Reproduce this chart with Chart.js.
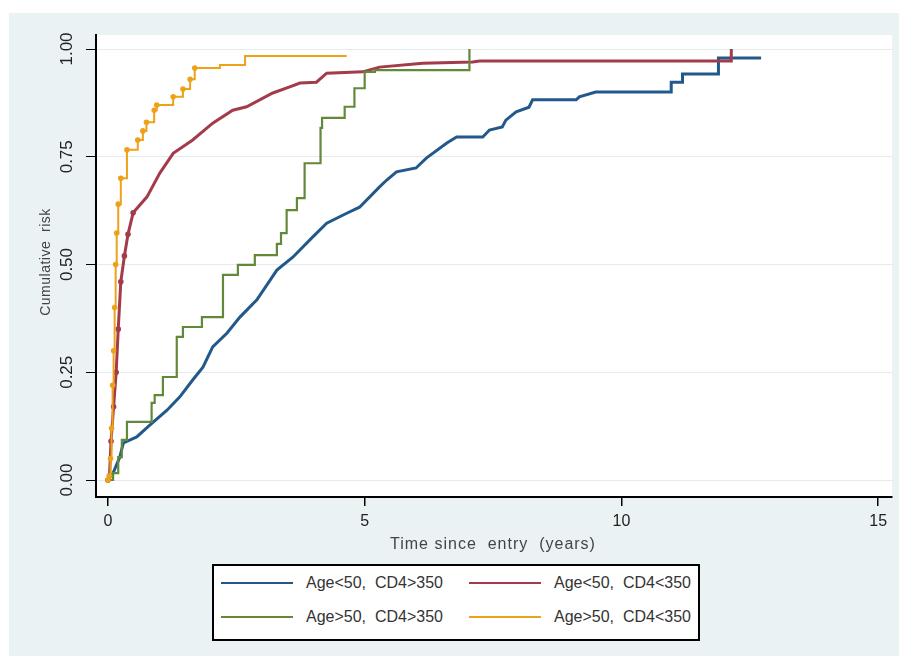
<!DOCTYPE html>
<html>
<head>
<meta charset="utf-8">
<script src="https://cdn.jsdelivr.net/npm/chart.js@4.4.1/dist/chart.umd.min.js"></script>
<style>
  body { margin: 0; background: #fff; }
  #wrap { position: relative; width: 899px; height: 664px; }
  #legend {
    position: absolute; left: 212px; top: 564px; width: 484px; height: 73px;
    border: 2px solid #000; background: #fff;
    font-family: "Liberation Sans", Arial, sans-serif; font-size: 16px; color: #333;
  }
  .item { position: absolute; height: 20px; }
  .swatch { position: absolute; top: 9px; width: 72px; height: 2px; }
  .label { position: absolute; left: 85px; top: 0; line-height: 20px; white-space: pre; }
</style>
</head>
<body>
<div id="wrap">
  <canvas id="myChart" width="899" height="664"></canvas>
  <div id="legend"></div>
</div>
<script>
const seriesNames = [
  "Age<50,  CD4>350",
  "Age<50,  CD4<350",
  "Age>50,  CD4>350",
  "Age>50,  CD4<350"
];
const seriesColors = ["#22598a", "#a33b4a", "#62893a", "#eda21a"];

// Age<50, CD4>350 (vertices of the curve)
const timeBlue = [0, 0.1, 0.23, 0.3, 0.56, 0.82, 1.15, 1.4, 1.65, 1.85, 2.04, 2.32, 2.57, 2.9, 3.29, 3.6, 3.99, 4.26, 4.65, 4.9, 5.29, 5.43, 5.62, 6.0, 6.2, 6.6, 6.79, 7.3, 7.43, 7.68, 7.75, 7.95, 8.2, 8.27, 9.12, 9.18, 9.5, 10.97, 10.97, 11.19, 11.19, 11.89, 11.89, 12.72];
const riskBlue = [0, 0.016, 0.053, 0.086, 0.1, 0.128, 0.162, 0.193, 0.232, 0.262, 0.309, 0.341, 0.378, 0.418, 0.487, 0.517, 0.564, 0.596, 0.619, 0.633, 0.68, 0.696, 0.715, 0.724, 0.747, 0.782, 0.796, 0.796, 0.812, 0.819, 0.835, 0.854, 0.865, 0.882, 0.882, 0.889, 0.9, 0.9, 0.923, 0.923, 0.942, 0.942, 0.979, 0.979];

// Age<50, CD4<350
const timeMaroon = [0, 0.03, 0.06, 0.11, 0.16, 0.2, 0.25, 0.32, 0.39, 0.49, 0.76, 1.01, 1.27, 1.65, 2.04, 2.43, 2.7, 3.21, 3.54, 3.74, 4.06, 4.26, 4.96, 5.29, 6.13, 7.1, 7.24, 12.14, 12.14];
const riskMaroon = [0, 0.01, 0.09, 0.17, 0.25, 0.35, 0.46, 0.52, 0.57, 0.62, 0.657, 0.712, 0.758, 0.789, 0.828, 0.858, 0.866, 0.898, 0.912, 0.921, 0.923, 0.944, 0.947, 0.958, 0.967, 0.97, 0.972, 0.972, 1.0];

// Age>50, CD4>350 (step points)
const timeGreen = [0, 0.1, 0.2, 0.27, 0.37, 0.85, 0.91, 1.07, 1.34, 1.46, 1.83, 2.24, 2.53, 2.86, 3.29, 3.37, 3.48, 3.68, 3.83, 4.14, 4.17, 4.61, 4.8, 5.0, 5.2, 7.04];
const riskGreen = [0, 0.016, 0.053, 0.093, 0.135, 0.179, 0.197, 0.239, 0.332, 0.355, 0.378, 0.476, 0.499, 0.522, 0.548, 0.573, 0.626, 0.654, 0.735, 0.817, 0.84, 0.866, 0.909, 0.947, 0.951, 1.0];

// Age>50, CD4<350 (step points)
const timeOrange = [0, 0.03, 0.05, 0.07, 0.09, 0.11, 0.13, 0.15, 0.17, 0.2, 0.25, 0.37, 0.58, 0.68, 0.75, 0.9, 0.95, 1.27, 1.46, 1.6, 1.69, 2.18, 2.67, 4.65];
const riskOrange = [0, 0.01, 0.05, 0.12, 0.22, 0.3, 0.4, 0.5, 0.573, 0.64, 0.7, 0.766, 0.789, 0.81, 0.83, 0.858, 0.87, 0.889, 0.907, 0.93, 0.956, 0.963, 0.984, 0.984];

const xTicks = [0, 5, 10, 15];
const yTicks = [0, 0.25, 0.5, 0.75, 1];

function toPoints(t, r) {
  return t.map((x, i) => ({ x: x, y: r[i] }));
}

const framePlugin = {
  id: "frame",
  beforeDraw(chart) {
    const ctx = chart.ctx;
    const a = chart.chartArea;
    ctx.save();
    ctx.fillStyle = "#ffffff";
    ctx.fillRect(0, 0, chart.width, chart.height);
    ctx.fillStyle = "#eaf2f3";
    ctx.fillRect(9, 13, chart.width - 9, 643);
    ctx.fillStyle = "#ffffff";
    ctx.fillRect(a.left, a.top, a.right - a.left, a.bottom - a.top);
    ctx.restore();
  },
  afterDraw(chart) {
    const ctx = chart.ctx;
    const ys = chart.scales.y;
    ctx.save();
    ctx.fillStyle = "#222";
    ctx.font = "17px 'Liberation Sans', Arial, sans-serif";
    ctx.textAlign = "center";
    ctx.textBaseline = "middle";
    yTicks.forEach(v => {
      ctx.save();
      ctx.translate(67, ys.getPixelForValue(v));
      ctx.rotate(-Math.PI / 2);
      ctx.fillText(v.toFixed(2), 0, 0);
      ctx.restore();
    });
    ctx.fillStyle = "#444";
    ctx.font = "14px 'Liberation Sans', Arial, sans-serif";
    ctx.letterSpacing = "0.5px";
    ctx.save();
    ctx.translate(46, 262);
    ctx.rotate(-Math.PI / 2);
    ctx.fillText("Cumulative  risk", 0, 0);
    ctx.restore();
    ctx.font = "16px 'Liberation Sans', Arial, sans-serif";
    ctx.letterSpacing = "1px";
    ctx.fillText("Time since  entry  (years)", 493, 545);
    ctx.restore();
  }
};

const ctx = document.getElementById("myChart");

const data = {
  datasets: [
    {
      label: seriesNames[0],
      data: toPoints(timeBlue, riskBlue),
      borderColor: seriesColors[0],
      borderWidth: 3,
      pointRadius: 0,
      order: 3
    },
    {
      label: seriesNames[1],
      data: toPoints(timeMaroon, riskMaroon),
      borderColor: seriesColors[1],
      backgroundColor: seriesColors[1],
      borderWidth: 3,
      pointRadius: c => (c.raw && c.raw.x < 0.5 ? 1.3 : 0),
      order: 2
    },
    {
      label: seriesNames[2],
      data: toPoints(timeGreen, riskGreen),
      borderColor: seriesColors[2],
      borderWidth: 2.2,
      stepped: "before",
      pointRadius: 0,
      order: 1
    },
    {
      label: seriesNames[3],
      data: toPoints(timeOrange, riskOrange),
      borderColor: seriesColors[3],
      backgroundColor: "#f39c12",
      borderWidth: 2,
      stepped: "before",
      pointRadius: c => (c.raw && c.raw.x < 2 ? 1.8 : 0),
      order: 0
    }
  ]
};

const config = {
  type: "line",
  data,
  plugins: [framePlugin],
  options: {
    responsive: false,
    animation: false,
    devicePixelRatio: 1,
    layout: { padding: { left: 10, top: 35, right: 6, bottom: 0 } },
    plugins: {
      legend: { display: false },
      tooltip: { enabled: false }
    },
    elements: { line: { tension: 0, fill: false }, point: { borderWidth: 0 } },
    scales: {
      x: {
        type: "linear",
        min: -0.233,
        max: 15.27,
        afterBuildTicks: s => { s.ticks = xTicks.map(v => ({ value: v })); },
        afterFit: s => { s.height = 167; },
        grid: { drawOnChartArea: false, tickColor: "#000", tickLength: 9, lineWidth: 1.5 },
        border: { color: "#000", width: 2 },
        ticks: {
          color: "#222",
          padding: 6,
          maxRotation: 0,
          font: { family: "'Liberation Sans', Arial, sans-serif", size: 16 }
        }
      },
      y: {
        type: "linear",
        min: -0.0394,
        max: 1.0325,
        afterBuildTicks: s => { s.ticks = yTicks.map(v => ({ value: v })); },
        afterFit: s => { s.width = 86; },
        grid: { color: "#e6eaea", lineWidth: 1, tickColor: "#000", tickLength: 10 },
        border: { color: "#000", width: 2 },
        ticks: { display: false }
      }
    }
  }
};

const chartInstance = new Chart(ctx, config);

const legend = document.getElementById("legend");
chartInstance.data.datasets.forEach((ds, i) => {
  const item = document.createElement("div");
  item.className = "item";
  item.style.left = (i % 2 === 0 ? 7 : 255) + "px";
  item.style.top = (i < 2 ? 7 : 41) + "px";
  item.innerHTML = '<div class="swatch"></div><div class="label"></div>';
  item.querySelector(".swatch").style.background = ds.borderColor;
  item.querySelector(".label").textContent = ds.label;
  legend.appendChild(item);
});
</script>
</body>
</html>
